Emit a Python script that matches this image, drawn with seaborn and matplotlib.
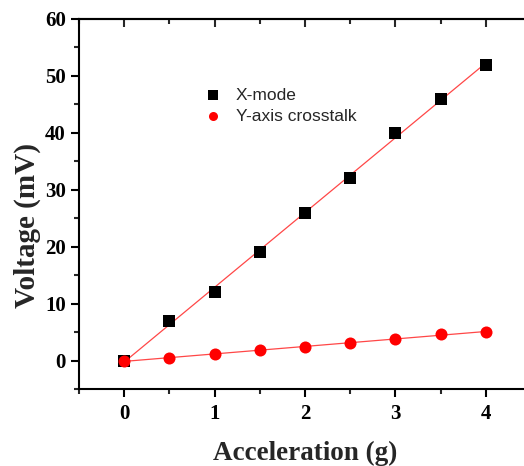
import numpy as np
import pandas as pd
import matplotlib
matplotlib.use("Agg")
import matplotlib.pyplot as plt
import seaborn as sns

accel = [0, 0.5, 1, 1.5, 2, 2.5, 3, 3.5, 4]
x_mode = [0, 7, 12, 19, 26, 32, 40, 46, 52]
y_cross = [0, 0.4, 1.2, 1.8, 2.4, 3.0, 3.8, 4.6, 5.1]
series_names = ["X-mode", "Y-axis crosstalk"]
x_ticks = [0, 1, 2, 3, 4]
y_ticks = [0, 10, 20, 30, 40, 50, 60]

sns.set_style("ticks")
plt.rcParams['font.family'] = ['Liberation Serif', 'DejaVu Serif']

df = pd.DataFrame({"accel": accel, "xmode": x_mode, "ycross": y_cross})

fig = plt.figure(figsize=(5.24, 4.66), dpi=100)
ax = fig.add_axes([79/524, 1-389/466, (531-79)/524, (389-19)/466])

# fit lines
sns.regplot(data=df, x="accel", y="xmode", ax=ax, scatter=False, ci=None,
            line_kws=dict(color="#ff3333", lw=0.9, alpha=0.9), truncate=True)
sns.regplot(data=df, x="accel", y="ycross", ax=ax, scatter=False, ci=None,
            line_kws=dict(color="#ff3333", lw=0.9, alpha=0.9), truncate=True)

sns.scatterplot(data=df, x="accel", y="xmode", ax=ax, marker="s", s=75,
                color="black", edgecolor="black", linewidth=0, label=series_names[0], zorder=3)
sns.scatterplot(data=df, x="accel", y="ycross", ax=ax, marker="o", s=75,
                color="red", edgecolor="red", linewidth=0, label=series_names[1], zorder=4)

ax.set_xlim(-0.5, 4.5)
ax.set_ylim(-5, 60)
ax.set_xticks(x_ticks)
ax.set_yticks(y_ticks)
ax.set_xticks(np.arange(-0.5, 4.6, 0.5), minor=True)
ax.set_yticks(np.arange(-5, 61, 5), minor=True)

for sp in ax.spines.values():
    sp.set_linewidth(1.5)
    sp.set_color("black")
ax.tick_params(axis="both", which="major", direction="out", length=6, width=1.5,
               labelsize=15, colors="black")
ax.tick_params(axis="x", which="major", pad=5)
ax.tick_params(axis="both", which="minor", direction="out", length=3.5, width=1.5)
for lab in ax.get_xticklabels() + ax.get_yticklabels():
    lab.set_fontweight("bold")

sec = ax.secondary_xaxis("top")
sec.set_xticks(x_ticks)
sec.set_xticks(np.arange(-0.5, 4.6, 0.5), minor=True)
sec.tick_params(axis="x", which="major", direction="in", length=6, width=1.5, labeltop=False)
sec.tick_params(axis="x", which="minor", direction="in", length=3.5, width=1.5)
sec.spines["top"].set_linewidth(1.5)

ax.set_xlabel("Acceleration (g)", fontsize=19.5, fontweight="bold", labelpad=12)
ax.set_ylabel("Voltage (mV)", fontsize=21, fontweight="bold")
ax.yaxis.set_label_coords(-0.084, 0.443)

leg = ax.legend(loc="upper left", bbox_to_anchor=(0.243, 0.857), frameon=False,
                prop={"family": "Liberation Sans", "size": 12.5}, handletextpad=0.8,
                labelspacing=0.35, markerscale=0.75, handlelength=1.0)

fig.savefig("out.png", dpi=100)
